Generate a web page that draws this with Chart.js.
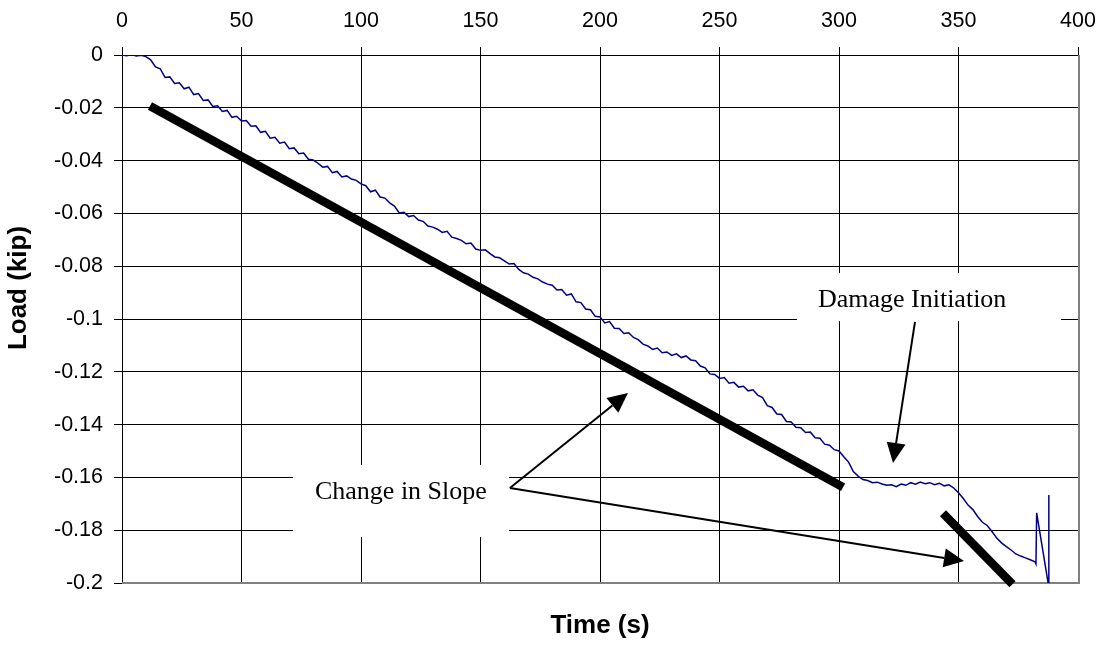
<!DOCTYPE html>
<html>
<head>
<meta charset="utf-8">
<script src="https://cdn.jsdelivr.net/npm/chart.js@4.4.1/dist/chart.umd.min.js"></script>
<style>
html,body{margin:0;padding:0;background:#fff;}
#wrap{width:1105px;height:645px;position:relative;}
</style>
</head>
<body>
<div id="wrap"><canvas id="c" width="1105" height="645"></canvas></div>
<script>
// ---- Data ----
const timeSec = [
  0,2,4,6,8,10,12,14,16,18,20,22,24,26,28,30,32,34,36,38,
  40,42,44,46,48,50,52,54,56,58,60,62,64,66,68,70,72,74,76,78,
  80,82,84,86,88,90,92,94,96,98,100,102,104,106,108,110,112,114,116,118,
  120,122,124,126,128,130,132,134,136,138,140,142,144,146,148,150,152,154,156,158,
  160,162,164,166,168,170,172,174,176,178,180,182,184,186,188,190,192,194,196,198,
  200,202,204,206,208,210,212,214,216,218,220,222,224,226,228,230,232,234,236,238,
  240,242,244,246,248,250,252,254,256,258,260,262,264,266,268,270,272,274,276,278,
  280,282,284,286,288,290,292,294,296,298,300,302,304,306,308,310,312,314,316,318,
  320,322,324,326,328,330,332,334,336,338,340,342,344,346,348,350,352,354,356,358,
  360,362,364,366,368,370,372,374,376,378,380,382,382.4,382.7,387.5,387.8
];
const loadKip = [
  0,-0.0003,0.0002,-0.0004,-0.0001,-0.0006,-0.0018,-0.0045,-0.0052,-0.0085,
  -0.0083,-0.0108,-0.0105,-0.0128,-0.0122,-0.0150,-0.0146,-0.0172,-0.0170,-0.0195,
  -0.0192,-0.0214,-0.0210,-0.0236,-0.0232,-0.0250,-0.0248,-0.0270,-0.0268,-0.0293,
  -0.0289,-0.0315,-0.0312,-0.0334,-0.0330,-0.0355,-0.0352,-0.0374,-0.0371,-0.0395,
  -0.0398,-0.0410,-0.0425,-0.0422,-0.0446,-0.0441,-0.0462,-0.0458,-0.0470,-0.0475,
  -0.0488,-0.0495,-0.0518,-0.0512,-0.0538,-0.0542,-0.0560,-0.0572,-0.0598,-0.0596,
  -0.0612,-0.0608,-0.0625,-0.0630,-0.0648,-0.0652,-0.0660,-0.0672,-0.0668,-0.0690,
  -0.0695,-0.0702,-0.0715,-0.0712,-0.0735,-0.0740,-0.0738,-0.0752,-0.0765,-0.0768,
  -0.0780,-0.0792,-0.0790,-0.0812,-0.0825,-0.0830,-0.0842,-0.0848,-0.0860,-0.0868,
  -0.0872,-0.0890,-0.0888,-0.0910,-0.0905,-0.0935,-0.0938,-0.0962,-0.0965,-0.0990,
  -0.0992,-0.1015,-0.1010,-0.1035,-0.1036,-0.1055,-0.1052,-0.1070,-0.1078,-0.1095,
  -0.1102,-0.1115,-0.1110,-0.1128,-0.1125,-0.1138,-0.1132,-0.1146,-0.1140,-0.1155,
  -0.1158,-0.1178,-0.1185,-0.1208,-0.1210,-0.1225,-0.1222,-0.1243,-0.1240,-0.1258,
  -0.1255,-0.1272,-0.1268,-0.1288,-0.1298,-0.1328,-0.1335,-0.1360,-0.1362,-0.1388,
  -0.1390,-0.1410,-0.1412,-0.1430,-0.1428,-0.1450,-0.1452,-0.1474,-0.1478,-0.1495,
  -0.1500,-0.1522,-0.1542,-0.1578,-0.1595,-0.1608,-0.1612,-0.1620,-0.1618,-0.1625,
  -0.1630,-0.1628,-0.1635,-0.1625,-0.1630,-0.1620,-0.1626,-0.1618,-0.1624,-0.1620,
  -0.1628,-0.1622,-0.1632,-0.1628,-0.1640,-0.1658,-0.1680,-0.1705,-0.1722,-0.1748,
  -0.1770,-0.1782,-0.1805,-0.1830,-0.1848,-0.1862,-0.1875,-0.1890,-0.1898,-0.1905,
  -0.1912,-0.1920,-0.1928,-0.1734,-0.2000,-0.1667
];
const xTickValues = [0,50,100,150,200,250,300,350,400];
const yTickValues = [0,-0.02,-0.04,-0.06,-0.08,-0.1,-0.12,-0.14,-0.16,-0.18,-0.2];

// thick "slope" lines, in data units
const slopeLine1Time = [11.7, 301.7];
const slopeLine1Load = [-0.0193, -0.1637];
const slopeLine2Time = [343.5, 372.6];
const slopeLine2Load = [-0.1736, -0.2005];

// text annotations (data units)
const annoLabels = ['Change in Slope', 'Damage Initiation'];
const annoLabelTime = [116.7, 330.6];
const annoLabelLoad = [-0.1683, -0.0953];
const annoBoxTime = [[71.5, 161.9], [282.4, 392.9]];
const annoBoxLoad = [[-0.1553, -0.1826], [-0.0826, -0.1008]];
// arrows: tail -> tip (data units)
const arrowTailTime = [162.3, 162.3, 331.8];
const arrowTailLoad = [-0.164, -0.164, -0.1011];
const arrowTipTime  = [211.7, 352.3, 322.6];
const arrowTipLoad  = [-0.128, -0.1917, -0.1545];

const seriesPoints = timeSec.map((t, i) => ({x: t, y: loadKip[i]}));
const line1Points = slopeLine1Time.map((t, i) => ({x: t, y: slopeLine1Load[i]}));
const line2Points = slopeLine2Time.map((t, i) => ({x: t, y: slopeLine2Load[i]}));

const plotBorder = {
  id: 'plotBorder',
  beforeDatasetsDraw(chart) {
    const {ctx, chartArea: a} = chart;
    ctx.save();
    ctx.strokeStyle = '#808080';
    ctx.lineWidth = 2;
    ctx.beginPath();
    ctx.moveTo(a.left, a.bottom);
    ctx.lineTo(a.right + 1, a.bottom);
    ctx.moveTo(a.right + 1, a.top);
    ctx.lineTo(a.right + 1, a.bottom + 1);
    ctx.stroke();
    ctx.restore();
  }
};

const annotations = {
  id: 'annotations',
  afterDatasetsDraw(chart) {
    const {ctx} = chart;
    const xs = chart.scales.x, ys = chart.scales.y;
    ctx.save();
    // label boxes
    for (let i = 0; i < annoLabels.length; i++) {
      const x0 = xs.getPixelForValue(annoBoxTime[i][0]);
      const x1 = xs.getPixelForValue(annoBoxTime[i][1]);
      const y0 = ys.getPixelForValue(annoBoxLoad[i][0]);
      const y1 = ys.getPixelForValue(annoBoxLoad[i][1]);
      ctx.fillStyle = '#fff';
      ctx.fillRect(x0, y0, x1 - x0, y1 - y0);
      ctx.fillStyle = '#000';
      ctx.font = '26px "Liberation Serif", "Times New Roman", serif';
      ctx.textAlign = 'center';
      ctx.textBaseline = 'alphabetic';
      ctx.fillText(annoLabels[i], xs.getPixelForValue(annoLabelTime[i]), ys.getPixelForValue(annoLabelLoad[i]));
    }
    // arrows
    ctx.strokeStyle = '#000';
    ctx.fillStyle = '#000';
    ctx.lineWidth = 2;
    for (let i = 0; i < arrowTipTime.length; i++) {
      const tx = xs.getPixelForValue(arrowTailTime[i]);
      const ty = ys.getPixelForValue(arrowTailLoad[i]);
      const hx = xs.getPixelForValue(arrowTipTime[i]);
      const hy = ys.getPixelForValue(arrowTipLoad[i]);
      const ang = Math.atan2(hy - ty, hx - tx);
      const len = 20, half = 9.5;
      const bx = hx - len * Math.cos(ang), by = hy - len * Math.sin(ang);
      ctx.beginPath();
      ctx.moveTo(tx, ty);
      ctx.lineTo(bx, by);
      ctx.stroke();
      ctx.beginPath();
      ctx.moveTo(hx, hy);
      ctx.lineTo(bx + half * Math.sin(ang), by - half * Math.cos(ang));
      ctx.lineTo(bx - half * Math.sin(ang), by + half * Math.cos(ang));
      ctx.closePath();
      ctx.fill();
    }
    // y axis title
    ctx.save();
    ctx.translate(19, 288);
    ctx.rotate(-Math.PI / 2);
    ctx.font = 'bold 26px "Liberation Sans", Arial, sans-serif';
    ctx.textAlign = 'center';
    ctx.textBaseline = 'middle';
    ctx.fillText('Load (kip)', 0, 0);
    ctx.restore();
    ctx.restore();
  }
};

const tickFont = {family: '"Liberation Sans", Arial, sans-serif', size: 21.5};

new Chart(document.getElementById('c'), {
  type: 'line',
  data: {
    datasets: [
      {data: seriesPoints, borderColor: '#000080', borderWidth: 1.5, pointRadius: 0, tension: 0, fill: false, order: 2},
      {data: line1Points, borderColor: '#000', borderWidth: 8.5, borderCapStyle: 'butt', pointRadius: 0, fill: false, clip: false, order: 1},
      {data: line2Points, borderColor: '#000', borderWidth: 8.5, borderCapStyle: 'butt', pointRadius: 0, fill: false, clip: false, order: 1}
    ]
  },
  options: {
    responsive: false,
    animation: false,
    devicePixelRatio: 1,
    parsing: false,
    layout: {padding: {left: 0, right: 27, top: 0, bottom: 0}},
    plugins: {legend: {display: false}, tooltip: {enabled: false}, title: {display: false}},
    scales: {
      x: {
        type: 'linear', position: 'top', min: 0, max: 400,
        afterBuildTicks: s => { s.ticks = xTickValues.map(v => ({value: v})); },
        ticks: {font: tickFont, color: '#000', padding: 13, maxRotation: 0, autoSkip: false},
        grid: {color: '#000', lineWidth: 1, tickLength: 8, tickColor: '#000'},
        border: {color: '#000', width: 1},
        afterFit: s => { s.height = 55; s.paddingLeft = 0; s.paddingRight = 0; }
      },
      x2: {
        type: 'linear', position: 'bottom', min: 0, max: 400,
        ticks: {display: false},
        grid: {display: false, drawTicks: false},
        border: {display: false},
        title: {display: true, text: 'Time (s)', color: '#000',
                font: {family: '"Liberation Sans", Arial, sans-serif', size: 26, weight: 'bold'},
                padding: {top: 0, bottom: 4}},
        afterFit: s => { s.height = 62; s.paddingLeft = 0; s.paddingRight = 0; }
      },
      y: {
        type: 'linear', min: -0.2, max: 0,
        afterBuildTicks: s => { s.ticks = yTickValues.map(v => ({value: v})); },
        ticks: {font: tickFont, color: '#000', padding: 11, autoSkip: false,
                callback: v => String(Number(Number(v).toFixed(2)))},
        grid: {color: '#000', lineWidth: 1, tickLength: 8, tickColor: '#000'},
        border: {color: '#000', width: 1},
        afterFit: s => { s.width = 122; s.paddingTop = 0; s.paddingBottom = 0; }
      }
    }
  },
  plugins: [plotBorder, annotations]
});
</script>
</body>
</html>
